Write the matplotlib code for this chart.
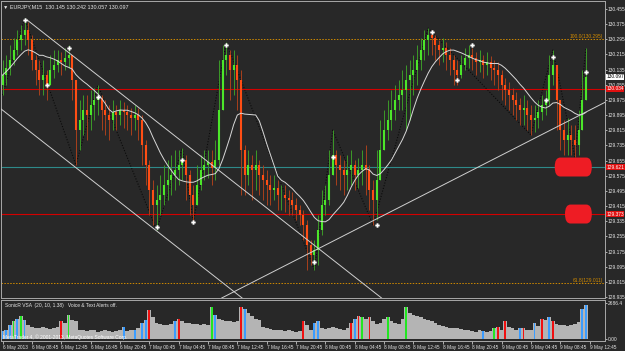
import numpy as np
import pandas as pd
import matplotlib
matplotlib.use('Agg')
import matplotlib.pyplot as plt
import matplotlib.transforms as mtransforms
from matplotlib.patches import FancyBboxPatch

plt.rcParams['font.family'] = ['Liberation Sans Narrow', 'Liberation Sans', 'DejaVu Sans']

# EURJPY M15 chart, read as 30 minute bars
first_open = 130.054
closes = [130.106, 130.143, 130.186, 130.238, 130.291, 130.317, 130.344, 130.291, 130.186, 130.133,
          130.080, 130.106, 130.054, 130.133, 130.159, 130.186, 130.175, 130.196, 130.212, 130.080,
          129.816, 129.869, 129.922, 129.895, 129.948, 129.975, 129.985, 129.922, 129.895, 129.869,
          129.911, 129.895, 129.922, 129.911, 129.895, 129.880, 129.895, 129.869, 129.737, 129.632,
          129.500, 129.421, 129.447, 129.474, 129.526, 129.553, 129.579, 129.605, 129.632, 129.658,
          129.579, 129.474, 129.421, 129.526, 129.605, 129.632, 129.648, 129.616, 129.658, 129.922,
          130.186, 130.212, 130.133, 130.159, 130.080, 129.711, 129.579, 129.632, 129.605, 129.632,
          129.579, 129.553, 129.526, 129.500, 129.511, 129.474, 129.474, 129.458, 129.447, 129.421,
          129.394, 129.368, 129.315, 129.210, 129.157, 129.184, 129.289, 129.421, 129.447, 129.579,
          129.685, 129.632, 129.605, 129.579, 129.605, 129.632, 129.579, 129.605, 129.632, 129.605,
          129.500, 129.447, 129.553, 129.711, 129.816, 129.869, 129.922, 129.975, 130.001, 130.027,
          130.080, 130.106, 130.133, 130.186, 130.238, 130.291, 130.317, 130.302, 130.265, 130.238,
          130.249, 130.212, 130.186, 130.133, 130.106, 130.159, 130.196, 130.212, 130.196, 130.175,
          130.186, 130.159, 130.175, 130.143, 130.133, 130.106, 130.054, 130.027, 130.001, 129.975,
          129.948, 129.922, 129.932, 129.895, 129.869, 129.880, 129.911, 129.948, 129.975, 130.106,
          130.159, 129.975, 129.816, 129.764, 129.790, 129.764, 129.737, 129.816, 129.975, 130.097]
highs = [130.186, 130.212, 130.265, 130.302, 130.344, 130.370, 130.407, 130.386, 130.317, 130.212,
         130.186, 130.186, 130.133, 130.212, 130.238, 130.238, 130.228, 130.249, 130.265, 130.212,
         130.027, 129.975, 130.001, 130.001, 130.027, 130.038, 130.054, 130.001, 129.975, 129.948,
         129.975, 129.948, 129.975, 129.964, 129.948, 129.932, 129.948, 129.932, 129.895, 129.764,
         129.658, 129.553, 129.526, 129.579, 129.632, 129.658, 129.685, 129.711, 129.711, 129.721,
         129.685, 129.605, 129.526, 129.632, 129.685, 129.711, 129.711, 129.711, 129.764, 130.186,
         130.265, 130.280, 130.238, 130.238, 130.212, 130.133, 129.737, 129.711, 129.685, 129.711,
         129.658, 129.632, 129.605, 129.579, 129.579, 129.553, 129.526, 129.526, 129.500, 129.489,
         129.458, 129.421, 129.394, 129.342, 129.236, 129.236, 129.368, 129.500, 129.526, 129.711,
         129.816, 129.711, 129.685, 129.658, 129.685, 129.711, 129.658, 129.669, 129.711, 129.737,
         129.632, 129.553, 129.711, 129.869, 129.922, 129.975, 130.027, 130.054, 130.080, 130.133,
         130.159, 130.186, 130.212, 130.265, 130.302, 130.344, 130.354, 130.344, 130.317, 130.291,
         130.302, 130.280, 130.249, 130.212, 130.186, 130.212, 130.249, 130.265, 130.249, 130.228,
         130.238, 130.212, 130.228, 130.207, 130.186, 130.175, 130.133, 130.091, 130.070, 130.038,
         130.017, 129.985, 130.001, 129.975, 129.948, 129.948, 129.975, 130.001, 130.027, 130.212,
         130.238, 130.133, 129.975, 129.869, 129.880, 129.843, 129.843, 129.922, 130.133, 130.249]
lows = [130.001, 130.054, 130.106, 130.159, 130.212, 130.238, 130.265, 130.212, 130.133, 130.054,
        130.001, 130.001, 129.975, 130.080, 130.091, 130.122, 130.106, 130.133, 130.143, 129.975,
        129.632, 129.711, 129.790, 129.764, 129.816, 129.869, 129.895, 129.816, 129.790, 129.764,
        129.816, 129.816, 129.843, 129.827, 129.816, 129.790, 129.816, 129.764, 129.632, 129.526,
        129.368, 129.315, 129.289, 129.368, 129.421, 129.447, 129.474, 129.500, 129.526, 129.553,
        129.447, 129.368, 129.331, 129.421, 129.500, 129.553, 129.563, 129.526, 129.553, 129.632,
        129.922, 130.106, 129.975, 130.001, 129.922, 129.474, 129.474, 129.526, 129.447, 129.500,
        129.474, 129.447, 129.421, 129.421, 129.447, 129.394, 129.394, 129.384, 129.368, 129.368,
        129.342, 129.315, 129.236, 129.078, 129.104, 129.078, 129.104, 129.263, 129.368, 129.421,
        129.579, 129.526, 129.500, 129.474, 129.500, 129.526, 129.500, 129.511, 129.526, 129.474,
        129.394, 129.315, 129.342, 129.605, 129.711, 129.764, 129.816, 129.869, 129.922, 129.922,
        129.816, 129.869, 130.001, 130.054, 130.133, 130.186, 130.212, 130.212, 130.186, 130.159,
        130.175, 130.133, 130.106, 130.054, 130.054, 130.091, 130.133, 130.143, 130.133, 130.106,
        130.122, 130.091, 130.106, 130.080, 130.054, 130.027, 129.975, 129.948, 129.922, 129.895,
        129.869, 129.843, 129.843, 129.816, 129.790, 129.806, 129.827, 129.869, 129.895, 129.948,
        130.054, 129.816, 129.711, 129.685, 129.685, 129.685, 129.674, 129.685, 129.816, 129.975]

volume = [600, 700, 1000, 1300, 1500, 1700, 1400, 1000, 900, 850,
          800, 900, 800, 750, 850, 900, 1300, 1200, 1750, 1400,
          1300, 700, 650, 600, 650, 700, 550, 600, 650, 600,
          550, 600, 650, 900, 600, 650, 700, 800, 1200, 1400,
          2150, 1600, 1200, 1100, 1050, 1000, 1100, 1300, 1500, 1300,
          1200, 1150, 1100, 1100, 1050, 1100, 1050, 2350, 1800, 1500,
          1400, 1300, 1350, 1250, 1300, 2400, 2200, 1900, 1700, 1500,
          1400, 900, 800, 750, 700, 650, 700, 600, 650, 600,
          550, 600, 1300, 1000, 700, 1200, 1300, 800, 750, 850,
          900, 800, 750, 700, 800, 1200, 1500, 1700, 1600, 1500,
          1600, 1300, 1100, 1200, 1500, 1600, 1300, 1200, 1100, 1500,
          2350, 1900, 1800, 1700, 1600, 1500, 1400, 1300, 1200, 1000,
          950, 900, 850, 800, 850, 750, 700, 650, 600, 550,
          650, 600, 550, 600, 800, 900, 700, 1300, 900, 800,
          700, 850, 800, 650, 700, 1200, 950, 1500, 1400, 1600,
          1300, 1100, 1050, 1000, 950, 1000, 1100, 1250, 2200, 2550]
vol_green = [3, 5, 18, 57, 98, 105, 110, 134]
vol_blue = [0, 1, 2, 4, 6, 33, 36, 38, 39, 47, 58, 66, 85, 86, 96, 131, 141, 145, 149, 158, 159]
vol_red = [16, 40, 48, 65, 82, 95, 97, 100, 135, 137, 142, 147, 150]

fractal_bars = [6, 12, 18, 26, 42, 49, 52, 61, 85, 90, 102, 117, 124, 128, 148, 150, 159]
fractal_prices = [130.397, 130.054, 130.249, 129.990, 129.305, 129.658, 129.331, 130.265, 129.120,
                  129.674, 129.315, 130.333, 130.080, 130.265, 129.975, 130.201, 130.122]

zigzag_bars = [0, 6, 20, 26, 42, 49, 52, 61, 85, 90, 101, 116, 144, 150, 156, 159]
zigzag_prices = [130.001, 130.407, 129.632, 130.054, 129.289, 129.721, 129.331, 130.280, 129.078,
                 129.816, 129.315, 130.354, 129.790, 130.238, 129.674, 130.249]

# trend lines: (bar, price) anchor pairs
trend_ray = ((6.7, 130.397), (103.3, 128.930))
trend_lines = [((-0.7, 129.932), (65.3, 128.930)), ((69.35, 129.025), (160.1, 129.922))]

red_levels = [130.034, 129.373]
teal_level = 129.621
bid_price = 130.097
fib_levels = [130.295, 129.011]
fib_labels = ['100.0(130.295)', '61.8(129.011)']
box_levels = [129.621, 129.373]
box_starts = [150.5, 153.3]

price_ticks = [round(130.455 - 0.08 * i, 3) for i in range(20)]
time_labels = ['6 May 2013', '6 May 08:45', '6 May 12:45', '6 May 16:45', '6 May 20:45',
               '7 May 00:45', '7 May 04:45', '7 May 08:45', '7 May 12:45', '7 May 16:45',
               '7 May 20:45', '8 May 00:45', '8 May 04:45', '8 May 08:45', '8 May 12:45',
               '8 May 16:45', '8 May 20:45', '9 May 00:45', '9 May 04:45', '9 May 08:45',
               '9 May 12:45']

bg = '#282828'
fg = '#e6e6e6'
fs = 3.5

fig = plt.figure(figsize=(6.25, 3.51), dpi=100, facecolor=bg)
ax = fig.add_axes([1 / 625, 1 - 298 / 351, 604 / 625, 297 / 351], facecolor=bg)
ax2 = fig.add_axes([1 / 625, 1 - 341 / 351, 604 / 625, 41 / 351], facecolor=bg)

x = np.arange(len(closes))
c = np.array(closes)
o = np.concatenate([[first_open], c[:-1]])
h = np.maximum(np.array(highs), np.maximum(o, c))
l = np.minimum(np.array(lows), np.minimum(o, c))
up = c >= o

ax.vlines(x[up], l[up], h[up], color='#3c9a28', lw=0.7, zorder=3)
ax.vlines(x[~up], l[~up], h[~up], color='#a8401c', lw=0.7, zorder=3)
ax.vlines(x[up], o[up], c[up], color='#4ce62a', lw=1.5, zorder=4)
ax.vlines(x[~up], c[~up], o[~up], color='#ff4e14', lw=1.5, zorder=4)

ma = pd.Series(closes).rolling(11, min_periods=1).mean()
ax.plot(x, ma, color='#d8d8d8', lw=0.7, zorder=5)

ax.plot(zigzag_bars, zigzag_prices, color='#0a0a0a', lw=0.8, ls=(0, (1, 1.5)), zorder=2)

(rx0, ry0), (rx1, ry1) = trend_ray
ax.plot([rx0, rx1], [ry0, ry1], color='#d0d0d0', lw=0.7, zorder=5)
for p0, p1 in trend_lines:
    ax.axline(p0, p1, color='#d0d0d0', lw=0.7, zorder=5)

for lv in red_levels:
    ax.axhline(lv, color='#d40000', lw=0.8, zorder=2)
ax.axhline(teal_level, color='#2e8a8a', lw=0.8, zorder=2)
ytr = mtransforms.blended_transform_factory(ax.transAxes, ax.transData)
for lv, txt in zip(fib_levels, fib_labels):
    ax.axhline(lv, color='#d08a00', lw=0.7, ls=(0, (1.5, 1.5)), zorder=2)
    ax.text(0.997, lv, txt, transform=ytr, ha='right', va='bottom', color='#d08a00', fontsize=fs)

ax.plot(fractal_bars, fractal_prices, ls='none', marker='P', ms=3, color='white', mec='white', mew=0.2, zorder=6)

ax.set_xlim(-0.41, 164.2)
ax.set_ylim(128.930, 130.497)
ax.set_xticks([])
ax.yaxis.tick_right()
ax.set_yticks(price_ticks)
ax.set_yticklabels([f'{p:.3f}' for p in price_ticks])
ax.tick_params(axis='y', colors=fg, labelsize=fs, length=1.5, width=0.5, pad=0.6)
for s in ax.spines.values():
    s.set_color('#a8a8a8')
    s.set_linewidth(0.7)

# highlight boxes
for lv, bx in zip(box_levels, box_starts):
    box = FancyBboxPatch((bx, lv - 0.05), 164.2 - bx - 3.6, 0.1,
                         boxstyle='round,pad=0,rounding_size=1.5', mutation_aspect=0.033,
                         fc='#ee1c24', ec='none', zorder=7, clip_on=False)
    ax.add_patch(box)

# price labels on the axis
ax.text(1.002, bid_price, f'{bid_price:.3f}', transform=ytr, ha='left', va='center', fontsize=fs,
        color='black', bbox=dict(fc='white', ec='none', pad=0.4), zorder=8, clip_on=False)
for lv in red_levels[:1] + box_levels:
    ax.text(1.002, lv, f'{lv:.3f}', transform=ytr, ha='left', va='center', fontsize=fs,
            color='white', bbox=dict(fc='#e01010', ec='none', pad=0.4), zorder=8, clip_on=False)

ax.text(0.004, 0.988, '\u25bc EURJPY,M15  130.145 130.242 130.057 130.097', transform=ax.transAxes,
        ha='left', va='top', color=fg, fontsize=3.9)

# volume panel
vol = np.array(volume)
ax2.bar(x, vol, width=1.0, color='#b4b4b4', zorder=2)
ax2.bar(vol_green, vol[vol_green], width=0.5, color='#22e622', zorder=3)
ax2.bar(vol_blue, vol[vol_blue], width=0.5, color='#3a9cff', zorder=3)
ax2.bar(vol_red, vol[vol_red], width=0.5, color='#f01010', zorder=3)
ax2.set_xlim(-0.41, 164.2)
ax2.set_ylim(-150, 2890)
ax2.yaxis.tick_right()
ax2.set_yticks([0, 2686.4])
ax2.set_yticklabels(['0.00', '2686.4'])
ax2.tick_params(axis='y', colors=fg, labelsize=fs, length=1.5, width=0.5, pad=0.6)
ax2.set_xticks(np.arange(len(time_labels)) * 8)
ax2.set_xticklabels(time_labels)
ax2.tick_params(axis='x', colors=fg, labelsize=3.4, length=2, width=0.5, pad=1)
for t in ax2.get_xticklabels():
    t.set_ha('left')
for s in ax2.spines.values():
    s.set_color('#a8a8a8')
    s.set_linewidth(0.7)
ax2.text(0.006, 0.93, 'SonicR VSA  (20, 10, 1.38)   Voice & Text Alerts off.', transform=ax2.transAxes,
         ha='left', va='top', color=fg, fontsize=fs, zorder=5)
ax2.text(0.004, 0.03, 'MetaTrader 4, \u00a9 2001-2013, MetaQuotes Software Corp.', transform=ax2.transAxes,
         ha='left', va='bottom', color='white', fontsize=fs, zorder=5)

fig.savefig('out.png', dpi=100, facecolor=bg)
